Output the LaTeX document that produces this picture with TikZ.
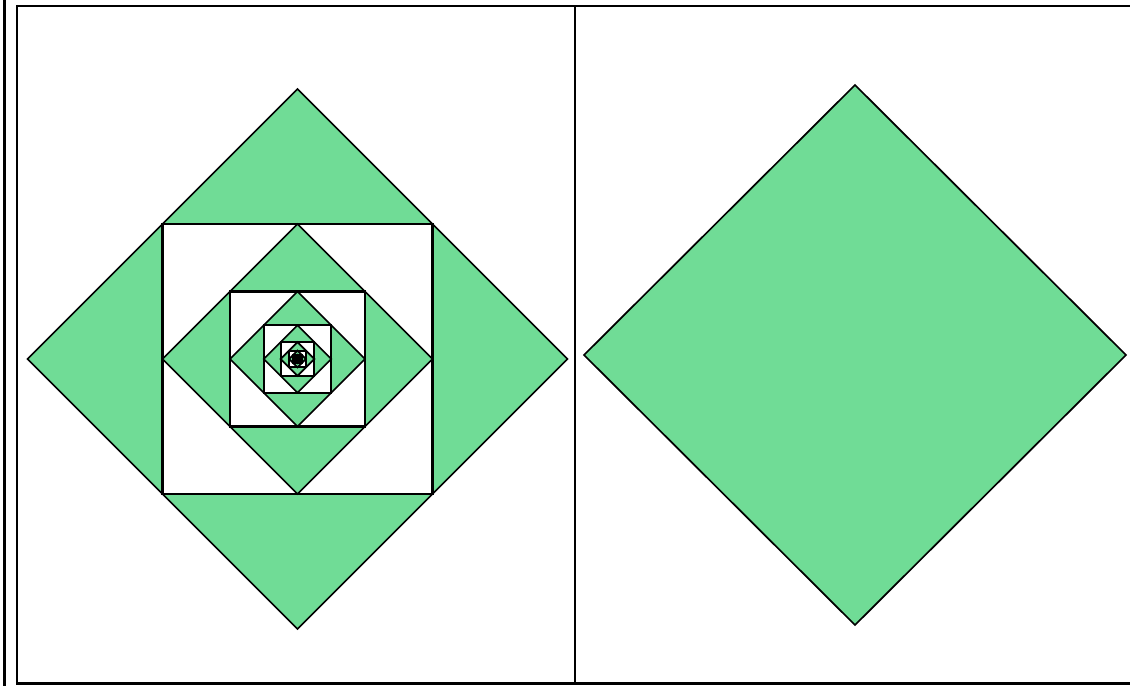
\documentclass[tikz,border=0pt]{standalone}
\definecolor{mygreen}{RGB}{112,220,150}
\begin{document}
\begin{tikzpicture}[x=1pt,y=-1pt,
  frameline/.style={line width=2.6pt,black},
  diamondline/.style={line width=1.7pt,black,line join=miter},
  squareline/.style={line width=2.1pt,black,line join=miter}]
\useasboundingbox[fill=white] (0,0) rectangle (1130,686);
% frame
\draw[frameline] (4.5,0) -- (4.5,686);
\draw[frameline] (17,6) -- (1130,6);
\draw[frameline] (17,683.5) -- (1130,683.5);
\draw[frameline] (17,4.8) -- (17,684.8);
\draw[frameline] (575,6) -- (575,683.5);
% left nested figure
\foreach \k in {0,...,8}{
  \pgfmathsetmacro\r{270/2^\k}
  \pgfmathsetmacro\s{\r/2}
  \draw[diamondline,fill=mygreen] (297.5,359-\r) -- (297.5+\r,359) -- (297.5,359+\r) -- (297.5-\r,359) -- cycle;
  \draw[squareline,fill=white] (297.5-\s,359-\s) rectangle (297.5+\s,359+\s);
}
% right diamond
\draw[diamondline,fill=mygreen] (855,85) -- (1126,355) -- (855,625) -- (584,355) -- cycle;
\end{tikzpicture}
\end{document}
